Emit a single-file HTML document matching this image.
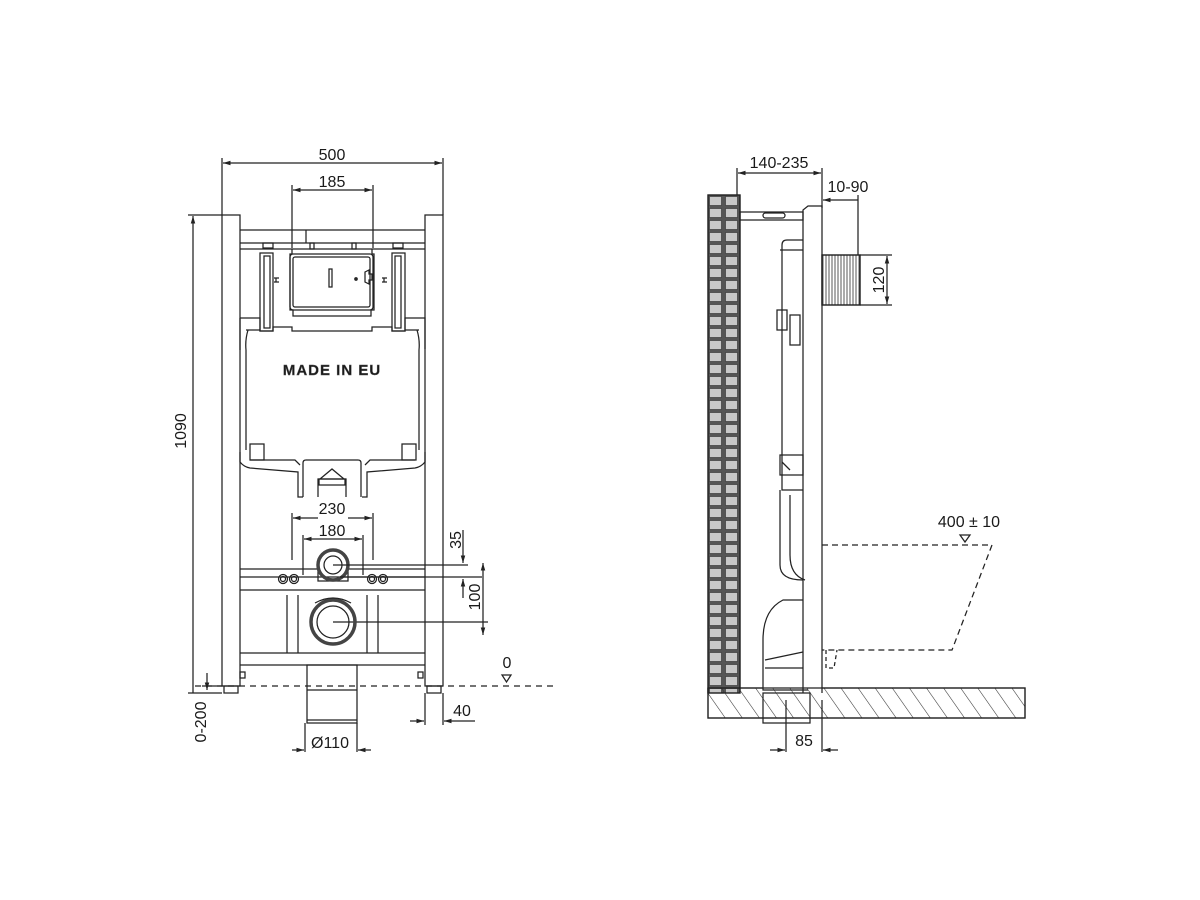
<!DOCTYPE html>
<html><head><meta charset="utf-8"><style>
html,body{margin:0;padding:0;background:#fff;width:1200px;height:900px;overflow:hidden}
svg{display:block}
text{font-family:"Liberation Sans",sans-serif;fill:#1a1a1a}
</style></head><body>
<svg width="1200" height="900" viewBox="0 0 1200 900" xmlns="http://www.w3.org/2000/svg">
<defs>
<marker id="a" viewBox="0 0 10 10" refX="10" refY="5" markerWidth="8" markerHeight="6" orient="auto-start-reverse"><path d="M0,2 L10,5 L0,8 z" fill="#222"/></marker>
<pattern id="hatch" width="14" height="14" patternUnits="userSpaceOnUse" patternTransform="rotate(-35)"><line x1="0" y1="0" x2="0" y2="14" stroke="#333" stroke-width="1.1"/></pattern>
<pattern id="vl" width="3" height="10" patternUnits="userSpaceOnUse"><line x1="1" y1="0" x2="1" y2="10" stroke="#444" stroke-width="0.9"/></pattern>
<pattern id="tile" x="708" y="195" width="16" height="12" patternUnits="userSpaceOnUse"><rect width="16" height="12" fill="#555"/><rect x="1.5" y="1.5" width="12" height="9" fill="#c8c8c8" stroke="#444" stroke-width="0.8"/></pattern>
</defs>
<g stroke="#222" fill="none" stroke-width="1.25">
<line x1="222" y1="158" x2="222" y2="215"/><line x1="443" y1="158" x2="443" y2="215"/>
<line x1="223" y1="163" x2="442" y2="163" marker-start="url(#a)" marker-end="url(#a)"/>
<line x1="292" y1="185" x2="292" y2="248"/><line x1="373" y1="185" x2="373" y2="248"/>
<line x1="293" y1="190" x2="372" y2="190" marker-start="url(#a)" marker-end="url(#a)"/>
<line x1="188" y1="215" x2="222" y2="215"/>
<line x1="193" y1="216" x2="193" y2="693" marker-start="url(#a)"/>
<line x1="188" y1="693" x2="222" y2="693"/>
<line x1="207" y1="673" x2="207" y2="690" marker-end="url(#a)"/>
<line x1="202" y1="686" x2="222" y2="686"/>
<rect x="222" y="215" width="18" height="471"/><rect x="425" y="215" width="18" height="471"/>
<rect x="224" y="686" width="14" height="7"/><rect x="427" y="686" width="14" height="7"/>
<line x1="240" y1="230" x2="425" y2="230"/>
<line x1="240" y1="243" x2="425" y2="243"/><line x1="240" y1="249" x2="425" y2="249"/>
<line x1="306" y1="230" x2="306" y2="243"/>
<rect x="263" y="243" width="10" height="5"/><rect x="393" y="243" width="10" height="5"/>
<rect x="310" y="243" width="4" height="6"/><rect x="352" y="243" width="4" height="6"/>
<path d="M292,249 v5 h-2 v56 h3 v6 h78 v-6 h3 v-56 h-2 v-5"/>
<rect x="290" y="254" width="83" height="56" rx="3"/><rect x="293" y="257" width="77" height="50" rx="2"/>
<rect x="329" y="269" width="3" height="18"/><circle cx="356" cy="279" r="1.2" fill="#333"/>
<path d="M365,272 l4,-2 v4 h3 v6 h-3 v4 l-4,-2 z"/>
<rect x="260" y="253" width="13" height="78"/><rect x="264" y="256" width="6" height="72"/>
<rect x="392" y="253" width="13" height="78"/><rect x="395" y="256" width="6" height="72"/>
<path d="M274,278 h5 M276,278 v4 M274,282 h5"/><path d="M382,278 h5 M384,278 v4 M382,282 h5"/>
<path d="M240,318 h20 v13 h13 v-4 h19 v4 h80 v-4 h20 v4 h13 v-13 h20 v31"/>
<path d="M240,318 v32"/>
<path d="M248,330 q-3,10 -2,20 v100 M417,330 q3,10 2,20 v100"/>
<path d="M246,330 h14 M405,330 h14"/>
<text x="332" y="375" font-size="15" font-weight="bold" text-anchor="middle" stroke="#555" stroke-width="0.4" fill="#888" letter-spacing="1">MADE IN EU</text>
<path d="M240,452 v10 q4,5 10,6 l48,4 v25 h5 M425,452 v10 q-4,5 -10,6 l-48,4 v25 h-5"/>
<path d="M250,460 h45 l5,5 M415,460 h-45 l-5,5"/>
<rect x="250" y="444" width="14" height="16"/><rect x="402" y="444" width="14" height="16"/>
<path d="M303,497 v-34 q0,-3 3,-3 h52 q3,0 3,3 v34"/>
<path d="M318,497 v-18 h28 v18 M320,479 l12,-10 l12,10"/>
<rect x="319" y="479" width="26" height="6"/>
<line x1="292" y1="513" x2="292" y2="560"/><line x1="373" y1="513" x2="373" y2="560"/>
<line x1="293" y1="518" x2="318" y2="518" marker-start="url(#a)"/><line x1="348" y1="518" x2="372" y2="518" marker-end="url(#a)"/>
<line x1="303" y1="535" x2="303" y2="575"/><line x1="363" y1="535" x2="363" y2="575"/>
<line x1="304" y1="539" x2="362" y2="539" marker-start="url(#a)" marker-end="url(#a)"/>
<line x1="240" y1="569" x2="318" y2="569"/><line x1="348" y1="569" x2="425" y2="569"/>
<path d="M318,569 v12 h30 v-12"/>
<line x1="240" y1="577" x2="425" y2="577"/>
<line x1="240" y1="590" x2="425" y2="590"/>
<circle cx="283" cy="579" r="4.5"/><circle cx="283" cy="579" r="2.5"/>
<circle cx="294" cy="579" r="4.5"/><circle cx="294" cy="579" r="2.5"/>
<circle cx="372" cy="579" r="4.5"/><circle cx="372" cy="579" r="2.5"/>
<circle cx="383" cy="579" r="4.5"/><circle cx="383" cy="579" r="2.5"/>
<circle cx="333" cy="565" r="15" stroke-width="3.5" stroke="#444"/><circle cx="333" cy="565" r="9"/>
<line x1="333" y1="565" x2="468" y2="565"/>
<line x1="340" y1="577" x2="482" y2="577"/>
<line x1="463" y1="530" x2="463" y2="563" marker-end="url(#a)"/><line x1="463" y1="579" x2="463" y2="598" marker-start="url(#a)"/>
<line x1="483" y1="563" x2="483" y2="635" marker-start="url(#a)" marker-end="url(#a)"/>
<line x1="333" y1="622" x2="488" y2="622"/>
<line x1="287" y1="595" x2="287" y2="653"/><line x1="298" y1="595" x2="298" y2="653"/>
<line x1="367" y1="595" x2="367" y2="653"/><line x1="378" y1="595" x2="378" y2="653"/>
<circle cx="333" cy="622" r="22" stroke-width="3.5" stroke="#444"/><circle cx="333" cy="622" r="16"/>
<path d="M315,603 q18,-10 36,0"/>
<line x1="240" y1="653" x2="425" y2="653"/><line x1="240" y1="665" x2="425" y2="665"/>
<rect x="307" y="665" width="50" height="58"/>
<line x1="307" y1="690" x2="357" y2="690"/><line x1="307" y1="720" x2="357" y2="720"/>
<line x1="305" y1="723" x2="305" y2="752"/><line x1="357" y1="723" x2="357" y2="752"/>
<line x1="292" y1="750" x2="304" y2="750" marker-end="url(#a)"/><line x1="371" y1="750" x2="358" y2="750" marker-end="url(#a)"/>
<line x1="195" y1="686" x2="555" y2="686" stroke-dasharray="6,5"/>
<path d="M502,675 h9 l-4.5,7 z"/>
<line x1="425" y1="693" x2="425" y2="725"/><line x1="443" y1="693" x2="443" y2="725"/>
<line x1="410" y1="721" x2="424" y2="721" marker-end="url(#a)"/><line x1="475" y1="721" x2="444" y2="721" marker-end="url(#a)"/>
<rect x="240" y="672" width="5" height="6"/><rect x="418" y="672" width="5" height="6"/>

<rect x="708" y="195" width="32" height="498" fill="url(#tile)"/>
<rect x="708" y="195" width="32" height="498"/>
<line x1="737" y1="168" x2="737" y2="195"/><line x1="822" y1="168" x2="822" y2="208"/>
<line x1="738" y1="173" x2="821" y2="173" marker-start="url(#a)" marker-end="url(#a)"/>
<line x1="823" y1="200" x2="858" y2="200" marker-start="url(#a)"/>
<line x1="858" y1="195" x2="858" y2="255"/>
<rect x="740" y="212" width="63" height="8"/>
<rect x="763" y="213" width="22" height="5" rx="2.5"/>
<path d="M803,693 V210 l5,-4 h14 V693"/>
<rect x="822" y="255" width="38" height="50" fill="url(#vl)"/><rect x="822" y="255" width="38" height="50"/>
<line x1="860" y1="255" x2="892" y2="255"/><line x1="860" y1="305" x2="892" y2="305"/>
<line x1="887" y1="256" x2="887" y2="304" marker-start="url(#a)" marker-end="url(#a)"/>
<path d="M782,245 q0,-5 5,-5 h16 M782,245 V490 h21 M780,250 h23"/>
<path d="M777,310 h10 v20 h-10 z M790,315 h10 v30 h-10 z"/>
<path d="M780,455 h23 v20 h-23 z M782,462 l8,8"/>
<path d="M790,495 v60 q0,20 15,25"/>
<path d="M780,490 v75 q0,15 23,15"/>
<path d="M803,600 h-20 q-20,10 -20,40 v50 h45"/>
<path d="M765,660 l38,-8 M765,668 h38"/>
<rect x="763" y="693" width="47" height="30"/>
<rect x="708" y="688" width="317" height="30" fill="url(#hatch)"/>
<path d="M708,688 V718 H1025 V688 H822 M708,688 h55"/>
<line x1="786" y1="700" x2="786" y2="752"/><line x1="822" y1="700" x2="822" y2="752"/>
<line x1="770" y1="750" x2="785" y2="750" marker-end="url(#a)"/><line x1="838" y1="750" x2="823" y2="750" marker-end="url(#a)"/>
<path d="M822,545 H992 L952,650 H822" stroke-dasharray="6,4"/>
<path d="M826,650 v18 h8 l3,-18" stroke-dasharray="4,3"/>
<path d="M960,535 h10 l-5,7 z"/>
</g>
<g stroke="none" font-size="16">
<text x="332" y="160" text-anchor="middle">500</text>
<text x="332" y="187" text-anchor="middle">185</text>
<text x="332" y="514" text-anchor="middle">230</text>
<text x="332" y="536" text-anchor="middle">180</text>
<text x="330" y="748" text-anchor="middle">Ø110</text>
<text x="462" y="716" text-anchor="middle">40</text>
<text x="507" y="668" text-anchor="middle">0</text>
<text transform="translate(186,431) rotate(-90)" text-anchor="middle">1090</text>
<text transform="translate(206,722) rotate(-90)" text-anchor="middle">0-200</text>
<text transform="translate(461,540) rotate(-90)" text-anchor="middle">35</text>
<text transform="translate(480,597) rotate(-90)" text-anchor="middle">100</text>
<text x="779" y="168" text-anchor="middle">140-235</text>
<text x="848" y="192" text-anchor="middle">10-90</text>
<text transform="translate(884,280) rotate(-90)" text-anchor="middle">120</text>
<text x="969" y="527" text-anchor="middle">400 ± 10</text>
<text x="804" y="746" text-anchor="middle">85</text>
</g>
</svg>
</body></html>
